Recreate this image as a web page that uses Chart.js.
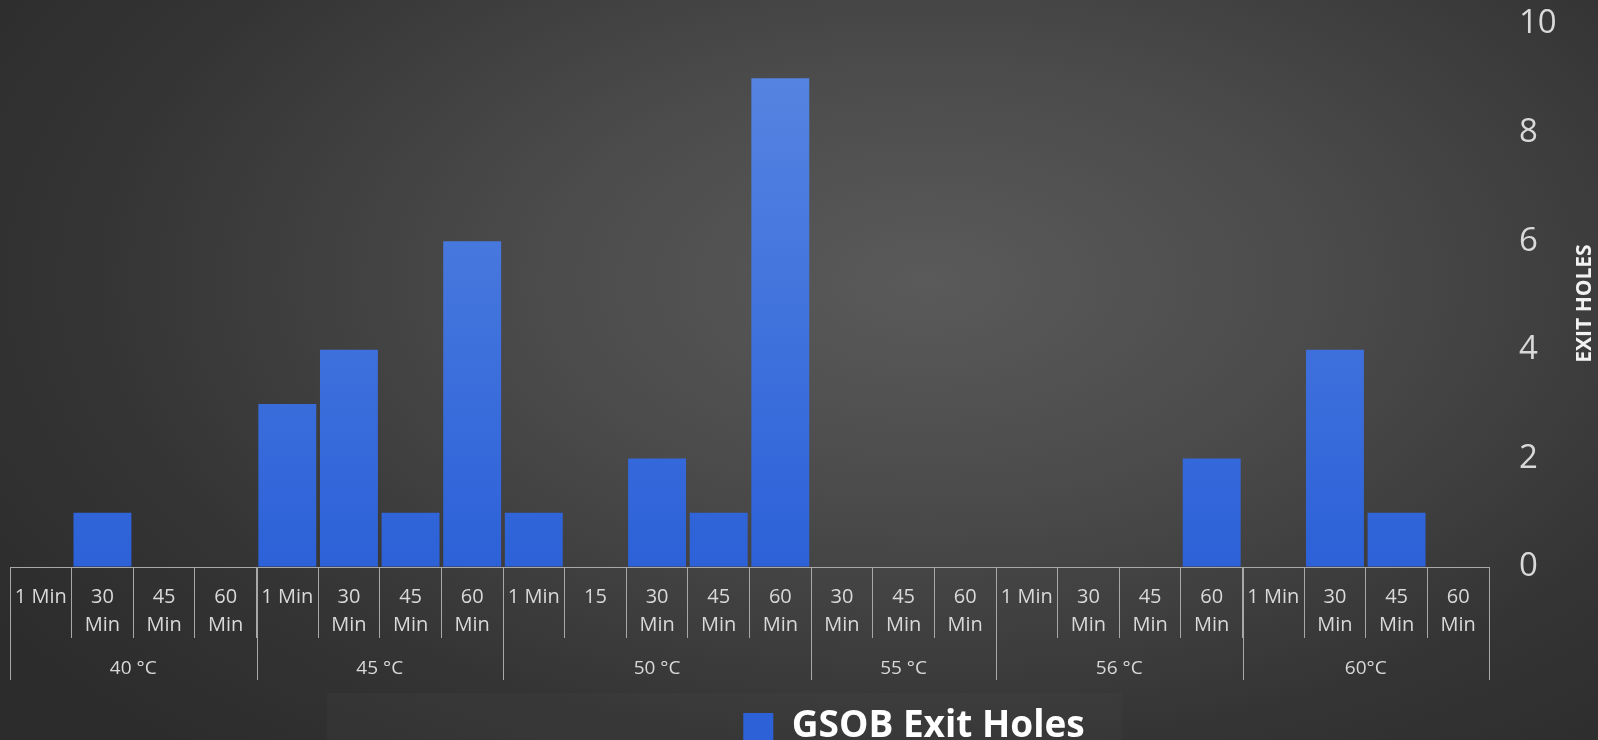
<!DOCTYPE html>
<html>
<head>
<meta charset="utf-8">
<script src="https://cdn.jsdelivr.net/npm/chart.js@4"></script>
<style>
  html, body { margin: 0; padding: 0; }
  body {
    width: 1598px; height: 740px; overflow: hidden;
    background: radial-gradient(ellipse 70% 85% at 58% 38%, #5a5a5a 0%, #4b4b4b 35%, #343434 75%, #2c2c2c 100%);
  }
  #wrap { position: relative; width: 1598px; height: 740px; }
</style>
</head>
<body>
<div id="wrap"><canvas id="myChart"></canvas></div>
<script>
let canva = document.querySelector('#myChart')

// time labels per bar, grouped by temperature
const labels = [
  '1 Min', ['30', 'Min'], ['45', 'Min'], ['60', 'Min'],
  '1 Min', ['30', 'Min'], ['45', 'Min'], ['60', 'Min'],
  '1 Min', '15', ['30', 'Min'], ['45', 'Min'], ['60', 'Min'],
  ['30', 'Min'], ['45', 'Min'], ['60', 'Min'],
  '1 Min', ['30', 'Min'], ['45', 'Min'], ['60', 'Min'],
  '1 Min', ['30', 'Min'], ['45', 'Min'], ['60', 'Min']
]
const group_labels = ['40 °C', '45 °C', '50 °C', '55 °C', '56 °C', '60°C']
const group_sizes = [4, 4, 5, 3, 4, 4]
const exit_holes = [
  0, 1, 0, 0,
  3, 4, 1, 6,
  1, 0, 2, 1, 9,
  0, 0, 0,
  0, 0, 0, 2,
  0, 4, 1, 0
]
const y_ticks = [0, 2, 4, 6, 8, 10]

const textColor = '#d9d9d9'
const lineColor = '#a8a8a8'

function barFill(context) {
  const area = context.chart.chartArea
  if (!area) return '#3a6ddc'
  const g = context.chart.ctx.createLinearGradient(0, area.top, 0, area.bottom)
  g.addColorStop(0, '#5987e2')
  g.addColorStop(1, '#2c61d8')
  return g
}

// temperature rows under the time labels + rotated axis title
const groupAxis = {
  id: 'groupAxis',
  afterLayout(chart) {
    // legend sits a bit right of centre and low
    chart.legend.left += 110
    chart.legend.right += 110
    chart.legend.top += 15
    chart.legend.bottom += 15
  },
  beforeDraw(chart) {
    // faint panel behind the legend
    const ctx = chart.ctx
    ctx.save()
    ctx.fillStyle = 'rgba(255,255,255,0.02)'
    ctx.fillRect(327, 693, 795, 47)
    ctx.restore()
  },
  afterDraw(chart) {
    const x = chart.scales.x
    const ctx = chart.ctx
    const half = (x.getPixelForValue(1) - x.getPixelForValue(0)) / 2
    const top = x.top
    ctx.save()
    ctx.strokeStyle = lineColor
    ctx.lineWidth = 1
    ctx.fillStyle = textColor
    ctx.font = '19px "Open Sans"'
    ctx.textAlign = 'center'
    ctx.textBaseline = 'middle'
    let start = 0
    const edges = [x.getPixelForValue(0) - half]
    group_sizes.forEach((n, i) => {
      const end = start + n - 1
      const right = x.getPixelForValue(end) + half
      edges.push(right)
      const cx = (x.getPixelForValue(start) - half + right) / 2
      ctx.fillText(group_labels[i], cx, top + 102)
      start += n
    })
    edges.forEach(px => {
      const p = Math.round(px) + 0.5
      ctx.beginPath()
      ctx.moveTo(p, top)
      ctx.lineTo(p, top + 113)
      ctx.stroke()
    })
    // y axis title, reading upwards
    ctx.translate(1585, (chart.chartArea.top + chart.chartArea.bottom) / 2 + 8)
    ctx.rotate(-Math.PI / 2)
    ctx.font = 'bold 21px "Open Sans"'
    ctx.fillStyle = '#f2f2f2'
    ctx.fillText('EXIT HOLES', 0, 0)
    ctx.restore()
  }
}

const data = {
  labels: labels,
  datasets: [{
    label: 'GSOB Exit Holes',
    data: exit_holes,
    backgroundColor: barFill,
    borderWidth: 0,
    barPercentage: 0.94,
    categoryPercentage: 1
  }]
}

const config = {
  type: 'bar',
  data: data,
  plugins: [groupAxis],
  options: {
    responsive: false,
    animation: false,
    layout: { padding: { top: 24, left: 10, right: 0, bottom: 0 } },
    plugins: {
      tooltip: { enabled: false },
      legend: {
        position: 'bottom',
        labels: {
          color: '#ffffff',
          font: { family: 'Open Sans', size: 37, weight: 'bold' },
          boxWidth: 30,
          boxHeight: 27,
          padding: 2
        }
      }
    },
    scales: {
      x: {
        grid: {
          offset: true,
          drawOnChartArea: false,
          drawTicks: true,
          tickLength: 71,
          tickColor: lineColor,
          lineWidth: 1
        },
        border: { display: true, color: lineColor, width: 1 },
        ticks: {
          color: textColor,
          font: { family: 'Open Sans', size: 20, lineHeight: 1.4 },
          autoSkip: false,
          maxRotation: 0,
          minRotation: 0,
          padding: -55
        },
        afterFit(scale) { scale.height = 124 }
      },
      y: {
        position: 'right',
        min: 0,
        max: 10,
        afterBuildTicks(scale) { scale.ticks = y_ticks.map(v => ({ value: v })) },
        // invisible tick marks push the labels away from the plot
        grid: {
          display: true,
          drawOnChartArea: false,
          drawTicks: true,
          tickLength: 30,
          tickColor: 'rgba(0,0,0,0)'
        },
        border: { display: false },
        ticks: {
          color: textColor,
          font: { family: 'Open Sans', size: 33 },
          padding: 0
        },
        afterFit(scale) { scale.width = 109 }
      }
    }
  }
}

canva.width = 1598
canva.height = 740
new Chart(canva, config)
</script>
</body>
</html>
